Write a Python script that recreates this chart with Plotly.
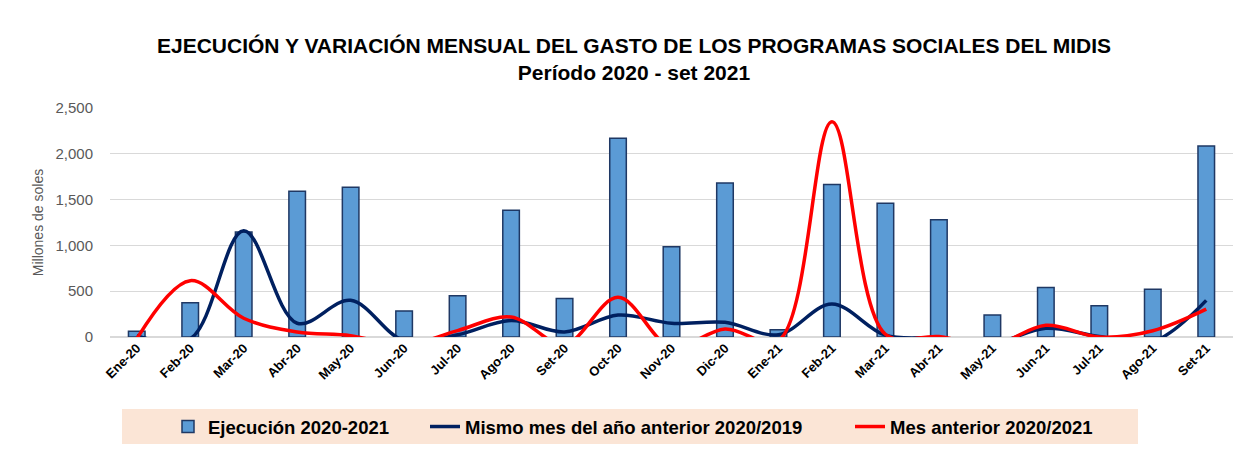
import plotly.graph_objects as go

meses = ["Ene-20", "Feb-20", "Mar-20", "Abr-20", "May-20", "Jun-20", "Jul-20", "Ago-20",
         "Set-20", "Oct-20", "Nov-20", "Dic-20", "Ene-21", "Feb-21", "Mar-21", "Abr-21",
         "May-21", "Jun-21", "Jul-21", "Ago-21", "Set-21"]

ejecucion = [62, 375, 1145, 1590, 1635, 285, 450, 1385, 420, 2170, 985, 1680, 78,
             1665, 1460, 1280, 240, 540, 340, 520, 2085]

mismo_mes = [15, -20, 1160, 150, 400, -40, 25, 180, 55, 240, 150, 160, 25,
             360, 20, -10, -70, 95, 5, -50, 400]

mes_anterior = [-20, 615, 205, 55, 15, -90, 70, 218, -80, 433, -110, 87, -40,
                2350, 30, 5, -90, 128, 0, 69, 305]

FONT = "Liberation Sans, Arial, sans-serif"

# the page adds an 8px body margin; positions below are reference pixels minus 8
OFF = 8
W, H = 1251 - OFF, 450 - OFF
L, T = 110 - OFF, 108 - OFF
R = W - (1233 - OFF)
B = H - (337 - OFF)
pw, ph = W - L - R, H - T - B


def px(x):
    return (x - OFF - L) / pw


def py(y):
    return (H - B - (y - OFF)) / ph


def cx(x):
    return (x - OFF) / W


def cy(y):
    return 1 - (y - OFF) / H


fig = go.Figure()
fig.add_trace(go.Bar(
    x=meses, y=ejecucion, name="<b>Ejecución 2020-2021</b>", legend="legend",
    showlegend=True,
    marker=dict(color="#5B9BD5", line=dict(color="#1F3864", width=1.5)),
))
fig.add_trace(go.Scatter(
    x=meses, y=mismo_mes, name="<b>Mismo mes del año anterior 2020/2019</b>", legend="legend2",
    showlegend=True,
    mode="lines", line=dict(color="#002060", width=3.5, shape="spline", smoothing=1.0),
))
fig.add_trace(go.Scatter(
    x=meses, y=mes_anterior, name="<b>Mes anterior 2020/2021</b>", legend="legend3",
    showlegend=True,
    mode="lines", line=dict(color="#FF0000", width=3.5, shape="spline", smoothing=1.0),
))

leg_common = dict(orientation="h", xanchor="left", yanchor="middle", y=cy(427),
                  xref="container", yref="container",
                  bgcolor="rgba(0,0,0,0)",
                  font=dict(size=18.5, family=FONT, color="#000000"))

fig.update_layout(
    width=W, height=H,
    margin=dict(l=L, r=R, t=T, b=B, autoexpand=False),
    showlegend=True,
    paper_bgcolor="white", plot_bgcolor="white",
    font=dict(family=FONT, color="#000000"),
    bargap=0.69,
    title=dict(
        text="<b>EJECUCIÓN Y VARIACIÓN MENSUAL DEL GASTO DE LOS PROGRAMAS SOCIALES DEL MIDIS<br>Período 2020 - set 2021</b>",
        x=cx(634), xanchor="center", y=1 - 45 / H, yanchor="middle",
        xref="container", yref="container",
        font=dict(size=21, family=FONT, color="#000000"),
    ),
    xaxis=dict(
        tickangle=-45, tickfont=dict(size=13, color="#000000", family=FONT, weight="bold"),
        showgrid=False, showline=False, ticks="",
    ),
    yaxis=dict(
        range=[0, 2500], dtick=500, tickformat=",",
        tickfont=dict(size=15, color="#595959", family=FONT),
        gridcolor="#D9D9D9", gridwidth=1, zeroline=True, zerolinecolor="#D9D9D9",
        ticks="outside", ticklen=13, tickcolor="rgba(0,0,0,0)",
        title=dict(text="Millones de soles", font=dict(size=14, color="#595959", family=FONT),
                   standoff=8),
    ),
    legend=dict(x=cx(168), **leg_common),
    legend2=dict(x=cx(425), **leg_common),
    legend3=dict(x=cx(850), **leg_common),
    shapes=[
        dict(type="rect", xref="paper", yref="paper",
             x0=px(122), x1=px(1138), y0=py(444), y1=py(409),
             fillcolor="#FBE5D6", line=dict(width=0), layer="below"),
    ],
)

fig.write_html("out.html")
